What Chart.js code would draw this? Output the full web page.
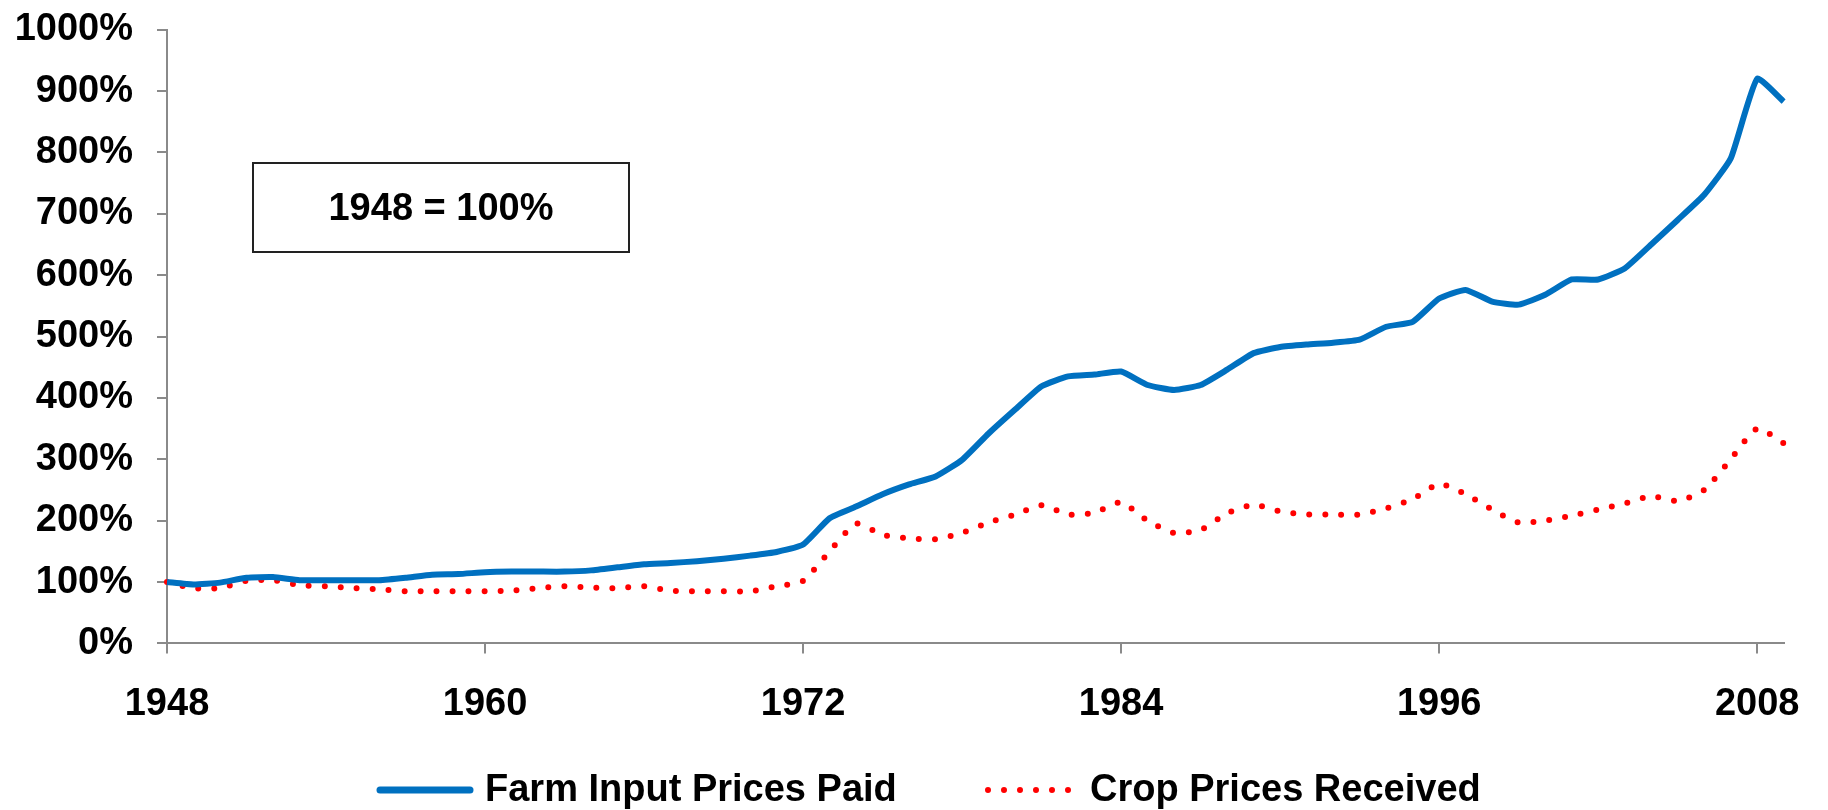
<!DOCTYPE html>
<html>
<head>
<meta charset="utf-8">
<script src="https://cdn.jsdelivr.net/npm/chart.js@4.4.0/dist/chart.umd.min.js"></script>
<style>
	html, body { margin: 0; padding: 0; background: #fff; }
	#wrap { width: 1828px; height: 810px; }
</style>
</head>
<body>
<div id="wrap"><canvas id="chart" width="1828" height="810"></canvas></div>
<script>
const years = [
	1948, 1949, 1950, 1951, 1952, 1953, 1954, 1955, 1956, 1957,
	1958, 1959, 1960, 1961, 1962, 1963, 1964, 1965, 1966, 1967,
	1968, 1969, 1970, 1971, 1972, 1973, 1974, 1975, 1976, 1977,
	1978, 1979, 1980, 1981, 1982, 1983, 1984, 1985, 1986, 1987,
	1988, 1989, 1990, 1991, 1992, 1993, 1994, 1995, 1996, 1997,
	1998, 1999, 2000, 2001, 2002, 2003, 2004, 2005, 2006, 2007,
	2008, 2009
];
const xTickLabels = [1948, 1960, 1972, 1984, 1996, 2008];

// farm input prices paid, % of 1948
const inputPrices = [
	100, 96, 99, 107, 108, 103, 103, 103, 103, 107,
	112, 113, 116, 117, 117, 117, 119, 124, 129, 131,
	134, 138, 143, 149, 161, 204, 223, 243, 259, 272,
	299, 342, 381, 419, 435, 438, 443, 421, 413, 421,
	446, 473, 483, 487, 490, 495, 516, 524, 562, 576,
	557, 552, 568, 593, 593, 611, 650, 690, 731, 790,
	920, 883
];
// crop prices received, % of 1948
const cropPrices = [
	100, 90, 90, 102, 103, 95, 93, 90, 88, 85,
	85, 85, 85, 86, 90, 93, 91, 90, 93, 86,
	85, 85, 85, 93, 102, 150, 195, 177, 171, 170,
	180, 197, 210, 225, 210, 213, 230, 200, 180, 185,
	212, 226, 215, 210, 210, 210, 220, 235, 260, 243,
	218, 197, 200, 208, 218, 228, 240, 232, 250, 300,
	350, 326
];
const noteText = '1948 = 100%';

const FONT = '"Liberation Sans", Arial, sans-serif';
const FONT_SIZE = 38;
const axisGrey = '#8a8a8a';
const blue = '#0070C0';
const red = '#FF0000';

// boxed note in the upper left of the plot
const noteBox = {
	id: 'noteBox',
	afterDraw(chart) {
		const {ctx} = chart;
		const x = chart.scales.x, y = chart.scales.y;
		const left = Math.round(x.getPixelForValue(3.26));
		const right = Math.round(x.getPixelForValue(17.42));
		const top = Math.round(y.getPixelForValue(783));
		const bottom = Math.round(y.getPixelForValue(637));
		ctx.save();
		ctx.strokeStyle = '#222';
		ctx.lineWidth = 2;
		ctx.strokeRect(left, top, right - left, bottom - top);
		ctx.fillStyle = '#000';
		ctx.font = 'bold ' + FONT_SIZE + 'px ' + FONT;
		ctx.textAlign = 'center';
		ctx.textBaseline = 'middle';
		ctx.fillText(noteText, (left + right) / 2, (top + bottom) / 2 + 2);
		ctx.restore();
	}
};

// legend drawn by hand so the red sample keeps its dots
const bottomLegend = {
	id: 'bottomLegend',
	afterDraw(chart) {
		const {ctx} = chart;
		const ds = chart.data.datasets;
		const cy = 790;
		ctx.save();
		ctx.font = 'bold ' + FONT_SIZE + 'px ' + FONT;
		ctx.textBaseline = 'middle';
		ctx.fillStyle = '#000';

		ctx.strokeStyle = ds[0].borderColor;
		ctx.lineWidth = 7;
		ctx.lineCap = 'round';
		ctx.beginPath();
		ctx.moveTo(380, cy);
		ctx.lineTo(470, cy);
		ctx.stroke();
		ctx.fillText(ds[0].label, 485, cy + 1);

		ctx.strokeStyle = ds[1].borderColor;
		ctx.lineWidth = ds[1].borderWidth;
		ctx.setLineDash(ds[1].borderDash);
		ctx.beginPath();
		ctx.moveTo(988, cy);
		ctx.lineTo(1070, cy);
		ctx.stroke();
		ctx.setLineDash([]);
		ctx.fillText(ds[1].label, 1090, cy + 1);
		ctx.restore();
	}
};

let chart = new Chart(
	document.getElementById('chart'),
	{
		type: 'line',
		data: {
			labels: years,
			datasets: [
				{
					label: 'Farm Input Prices Paid',
					data: inputPrices,
					borderColor: blue,
					backgroundColor: blue,
					borderWidth: 6,
					pointRadius: 0,
					tension: 0.15
				}, {
					label: 'Crop Prices Received',
					data: cropPrices,
					borderColor: red,
					backgroundColor: red,
					borderWidth: 6,
					borderDash: [0, 16],
					borderCapStyle: 'round',
					pointRadius: 0,
					tension: 0.2
				}
			]
		},
		options: {
			responsive: false,
			animation: false,
			layout: { autoPadding: false, padding: { left: 10, right: 33, top: 28, bottom: 55 } },
			plugins: {
				tooltip: { enabled: false },
				legend: { display: false }
			},
			scales: {
				x: {
					offset: false,
					grid: { drawOnChartArea: false, tickLength: 10, color: axisGrey, lineWidth: 2 },
					border: { display: true, color: axisGrey, width: 2 },
					ticks: {
						autoSkip: false,
						maxRotation: 0,
						padding: 28,
						color: '#000',
						font: { family: FONT, size: FONT_SIZE, weight: 'bold' },
						callback: function(val, idx) {
							const yr = years[idx];
							return xTickLabels.includes(yr) ? String(yr) : null;
						}
					}
				},
				y: {
					min: 0,
					max: 1000,
					afterFit: function(scale) { scale.width = 157; },
					grid: { drawOnChartArea: false, tickLength: 10, color: axisGrey, lineWidth: 2 },
					border: { display: true, color: axisGrey, width: 2 },
					ticks: {
						stepSize: 100,
						padding: 24,
						color: '#000',
						font: { family: FONT, size: FONT_SIZE, weight: 'bold', lineHeight: 0.3 },
						callback: v => v + '%'
					}
				}
			}
		},
		plugins: [noteBox, bottomLegend]
	}
);
</script>
</body>
</html>
